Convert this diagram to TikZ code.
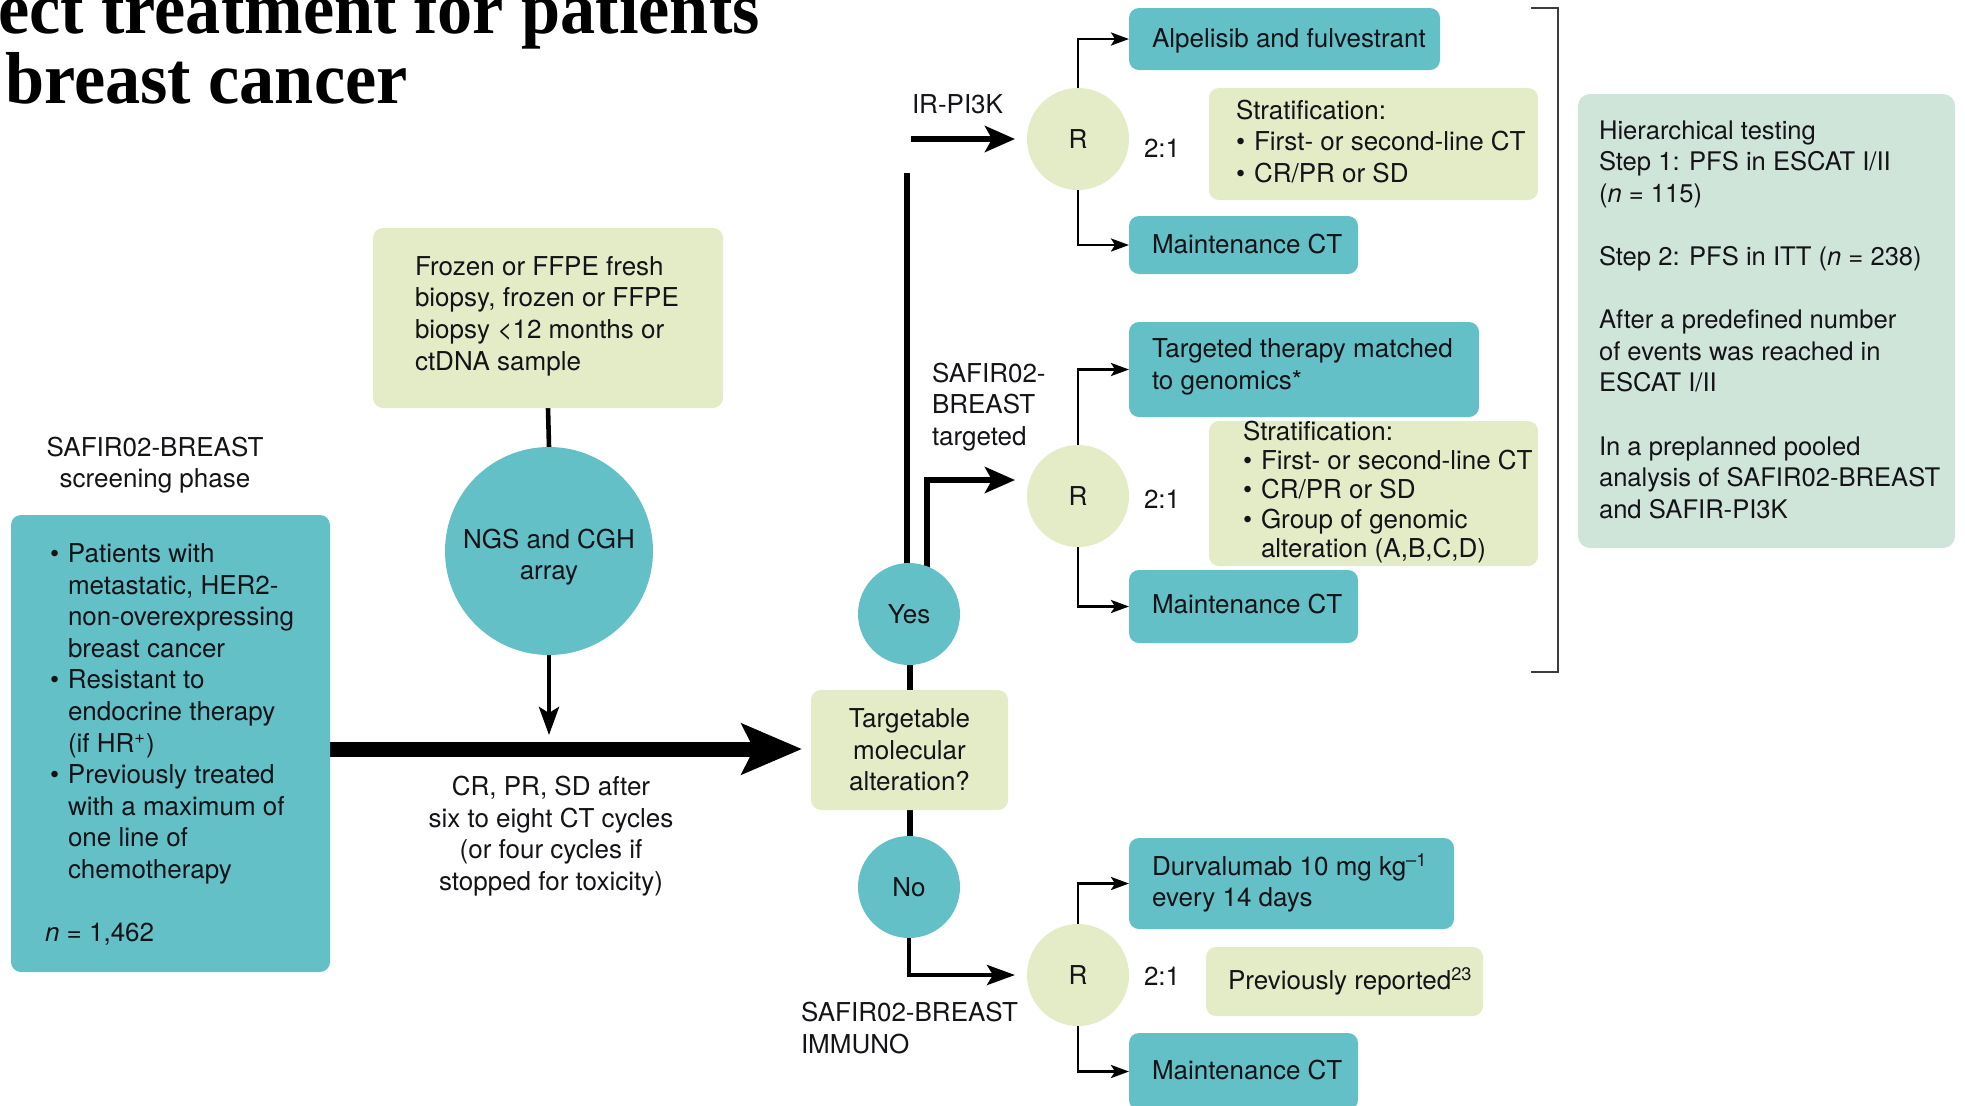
\documentclass[tikz,border=0pt]{standalone}
\usepackage{fontspec}
\setmainfont{TeX Gyre Heros}
\newfontfamily\titlefont{Liberation Serif}
\usetikzlibrary{arrows.meta,calc}

\definecolor{armteal}{RGB}{100,192,199}
\definecolor{stratgreen}{RGB}{227,236,199}
\definecolor{notemint}{RGB}{207,229,217}
\definecolor{inkblack}{RGB}{20,20,24}
\definecolor{bracketgray}{RGB}{60,60,60}

\newcommand\diagfont{\fontsize{13}{15.8}\selectfont}
\newcommand\bitem{\makebox[9pt][l]{\textbullet}}
\newcommand\bcont{\hspace*{9pt}}

\pgfdeclarelayer{links}
\pgfsetlayers{links,main}

\begin{document}
\begin{tikzpicture}[x=0.5pt, y=-0.5pt,
  every node/.style={inner sep=0pt, outer sep=0pt, text=inkblack, font=\diagfont},
  tealbox/.style={fill=armteal, rounded corners=5pt},
  greenbox/.style={fill=stratgreen, rounded corners=5pt},
  mintbox/.style={fill=notemint, rounded corners=6pt},
  tealdot/.style={circle, fill=armteal},
  rdot/.style={circle, fill=stratgreen, minimum size=51pt},
  txt/.style={anchor=west, align=left},
  basetxt/.style={anchor=base west},
  ctxt/.style={align=center},
  headline/.style={anchor=base west, text=black, font=\titlefont\bfseries\fontsize{36.8}{40}\selectfont},
  mainarrow/.style={line width=7.5pt, -{Stealth[length=30pt, width=25pt, inset=6pt]}},
  boldline/.style={line width=3pt},
  boldarrow/.style={line width=3pt, -{Stealth[length=15pt, width=13pt, inset=3.5pt]}},
  midline/.style={line width=2.3pt},
  midarrow/.style={line width=2.2pt, -{Stealth[length=14pt, width=10pt, inset=3pt]}},
  thinarrow/.style={line width=1.4pt, -{Stealth[length=9pt, width=6.5pt, inset=2pt]}},
]
\clip (0,0) rectangle (1965,1105);

% heading (cut by the frame)
\node[headline] (headA) at (-2,33) {\scalebox{0.955}[1]{ect treatment for patients}};
\node[headline] (headB) at (5,103) {\scalebox{0.955}[1]{breast cancer}};

% screening phase
\node[ctxt] (screenLbl) at (155,465) {SAFIR02-BREAST\\screening phase};
\node[tealbox, minimum width=159.5pt, minimum height=228.5pt] (screen) at (170.5,743.5) {};
\node[txt] (screenT) at (50,744.5) {\bitem Patients with\\
\bcont metastatic, HER2-\\
\bcont non-overexpressing\\
\bcont breast cancer\\
\bitem Resistant to\\
\bcont endocrine therapy\\
\bcont (if HR\textsuperscript{+})\\
\bitem Previously treated\\
\bcont with a maximum of\\
\bcont one line of\\
\bcont chemotherapy\\[15.8pt]
\hspace*{-2.5pt}\textit{n} = 1,462};

% sample and genomic analysis
\node[greenbox, minimum width=175pt, minimum height=90pt] (biopsy) at (548,318) {};
\node[txt] (biopsyT) at (415,316) {Frozen or FFPE fresh\\biopsy, frozen or FFPE\\biopsy <12 months or\\ctDNA sample};
\node[tealdot, minimum size=104pt] (ngs) at (549,551) {};
\node[ctxt] (ngsT) at (549,557) {NGS and CGH\\array};
\node[ctxt] (cycleT) at (551,836) {CR, PR, SD after\\six to eight CT cycles\\(or four cycles if\\stopped for toxicity)};

% decision
\node[greenbox, minimum width=98.5pt, minimum height=60pt, align=center] (target) at (909.5,750) {Targetable\\molecular\\alteration?};
\node[tealdot, minimum size=51pt] (yes) at (909,614) {Yes};
\node[tealdot, minimum size=51pt] (no) at (909,887) {No};

% cohort labels
\node[basetxt] (pi3kLbl) at (912,113) {IR-PI3K};
\node[txt] (tgtLbl) at (932,407) {SAFIR02-\\BREAST\\targeted};
\node[txt] (immLbl) at (801,1028) {SAFIR02-BREAST\\IMMUNO};

% randomisations
\node[rdot] (r1) at (1078,139) {R};
\node[rdot] (r2) at (1078,496) {R};
\node[rdot] (r3) at (1078,975) {R};
\node[basetxt] (q1) at (1144,157) {2:1};
\node[basetxt] (q2) at (1144,508) {2:1};
\node[basetxt] (q3) at (1144,985) {2:1};

% arms
\node[tealbox, minimum width=155.5pt, minimum height=31pt] (alp) at (1284.5,39) {};
\node[basetxt] (alpT) at (1152,47) {Alpelisib and fulvestrant};
\node[tealbox, minimum width=114.5pt, minimum height=29pt] (mct1) at (1243.5,245) {};
\node[basetxt] (mct1T) at (1152,253) {Maintenance CT};
\node[greenbox, minimum width=164.5pt, minimum height=56pt] (strat1) at (1373.5,144) {};
\node[txt] (strat1T) at (1236,141.5) {Stratification:\\\bitem First- or second-line CT\\\bitem CR/PR or SD};

\node[tealbox, minimum width=175pt, minimum height=47.5pt] (tt) at (1304,369.5) {};
\node[txt] (ttT) at (1152,367) {Targeted therapy matched\\to genomics*};
\node[greenbox, minimum width=164.5pt, minimum height=72.5pt] (strat2) at (1373.5,493.5) {};
\node[txt, font=\fontsize{13}{14.6}\selectfont] (strat2T) at (1243,492) {Stratification:\\\bitem First- or second-line CT\\\bitem CR/PR or SD\\\bitem Group of genomic\\\bcont alteration (A,B,C,D)};
\node[tealbox, minimum width=114.5pt, minimum height=36.5pt] (mct2) at (1243.5,606.5) {};
\node[basetxt] (mct2T) at (1152,613) {Maintenance CT};

\node[tealbox, minimum width=162.5pt, minimum height=45.5pt] (durva) at (1291.5,883.5) {};
\node[txt] (durvaT) at (1152,883) {Durvalumab 10 mg kg\textsuperscript{–1}\\every 14 days};
\node[greenbox, minimum width=138.5pt, minimum height=34.5pt] (prev) at (1344.5,981.5) {};
\node[basetxt] (prevT) at (1228,989) {Previously reported\textsuperscript{23}};
\node[tealbox, minimum width=114.5pt, minimum height=38.5pt] (mct3) at (1243.5,1071.5) {};
\node[basetxt] (mct3T) at (1152,1079) {Maintenance CT};

% bracket and analysis note
\draw[line width=0.8pt, draw=bracketgray] (1531,8) -- (1558,8) -- (1558,672) -- (1531,672);
\node[mintbox, minimum width=188.5pt, minimum height=227pt] (note) at (1766.5,321) {};
\node[txt, font=\fontsize{12.8}{15.8}\selectfont] (noteT) at (1599,319.5) {Hierarchical testing\\Step 1: PFS in ESCAT I/II\\(\textit{n} = 115)\\[15.8pt]
Step 2: PFS in ITT (\textit{n} = 238)\\[15.8pt]
After a predefined number\\of events was reached in\\ESCAT I/II\\[15.8pt]
In a preplanned pooled\\analysis of SAFIR02-BREAST\\and SAFIR-PI3K};

% connector turning points
\coordinate (ngsTip) at (549,735);
\coordinate (mainTip) at (802,749);
\coordinate (pkTop) at (907,173);
\coordinate (pkStart) at (911,139);
\coordinate (tgTurn) at (927,480);

\begin{pgfonlayer}{links}
  \draw[midline] (biopsy.south) -- (ngs.north);
  \draw[midarrow] (ngs.south) -- (ngsTip);
  \draw[mainarrow] (screen.east |- mainTip) -- (mainTip);
  \draw[boldline] (target.north) -- (target.north |- yes.south);
  \draw[boldline] (target.south) -- (target.south |- no.north);
  \draw[boldline] (yes.center -| pkTop) -- (pkTop);
  \draw[boldarrow, shorten >=6pt] (pkStart) -- (r1.west);
  \draw[boldarrow, shorten >=6pt] (yes.center -| tgTurn) -- (tgTurn) -- (tgTurn -| r2.west);
  \draw[midarrow, shorten >=6pt] (no.center) |- (r3.west);
  \draw[thinarrow] (r1.north) |- (alp.west);
  \draw[thinarrow] (r1.south) |- (mct1.west);
  \draw[thinarrow] (r2.north) |- (tt.west);
  \draw[thinarrow] (r2.south) |- (mct2.west);
  \draw[thinarrow] (r3.north) |- (durva.west);
  \draw[thinarrow] (r3.south) |- (mct3.west);
\end{pgfonlayer}
\end{tikzpicture}
\end{document}
